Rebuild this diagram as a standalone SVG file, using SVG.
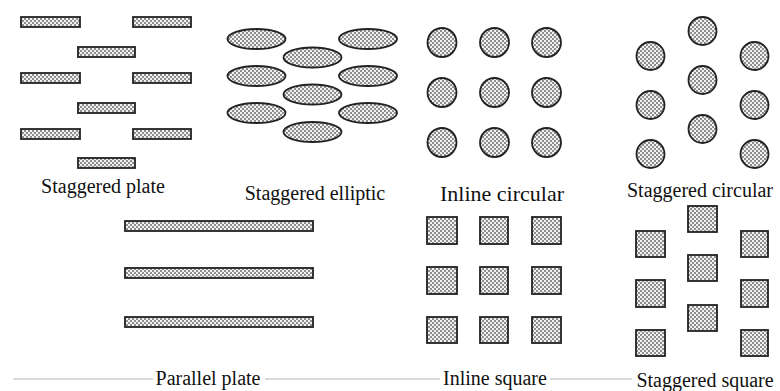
<svg xmlns="http://www.w3.org/2000/svg" width="780" height="391" viewBox="0 0 780 391">
  <defs>
    <!-- checkered hatch used for every tube/plate cross-section -->
    <pattern id="check" width="4" height="4" patternUnits="userSpaceOnUse">
      <rect width="4" height="4" fill="#8e8e8e"/>
      <rect x="0" y="0" width="2" height="2" fill="#f2f2f2"/>
      <rect x="2" y="2" width="2" height="2" fill="#f2f2f2"/>
    </pattern>
  </defs>
  <style>
    .s { fill: url(#check); stroke: #222; stroke-width: 1.8; }
    .lbl { font-family: "Liberation Serif", "Times New Roman", serif; font-size: 20px; fill: #111; text-anchor: middle; }
    .mask { fill: #fff; }
  </style>
  <rect width="780" height="391" fill="#fff"/>

  <!-- baseline rule under the bottom row -->
  <line x1="13" y1="379" x2="780" y2="379" stroke="#b4b4b4" stroke-width="1"/>

  <g id="staggered-plate">
    <rect class="s" x="21" y="17" width="59" height="10"/>
    <rect class="s" x="133" y="17" width="58" height="10"/>
    <rect class="s" x="78" y="47" width="57" height="10"/>
    <rect class="s" x="21" y="73" width="59" height="10"/>
    <rect class="s" x="133" y="73" width="58" height="10"/>
    <rect class="s" x="78" y="103" width="57" height="10"/>
    <rect class="s" x="21" y="129" width="59" height="10"/>
    <rect class="s" x="133" y="129" width="58" height="10"/>
    <rect class="s" x="78" y="158" width="57" height="10"/>
    <text class="lbl" x="103" y="193">Staggered plate</text>
  </g>

  <g id="staggered-elliptic">
    <ellipse class="s" cx="256.5" cy="39" rx="29" ry="10"/>
    <ellipse class="s" cx="368" cy="39" rx="29" ry="10"/>
    <ellipse class="s" cx="312.5" cy="57.5" rx="29" ry="10"/>
    <ellipse class="s" cx="256.5" cy="76" rx="29" ry="10"/>
    <ellipse class="s" cx="368" cy="76" rx="29" ry="10"/>
    <ellipse class="s" cx="312.5" cy="94.5" rx="29" ry="10"/>
    <ellipse class="s" cx="256.5" cy="113" rx="29" ry="10"/>
    <ellipse class="s" cx="368" cy="113" rx="29" ry="10"/>
    <ellipse class="s" cx="312.5" cy="132" rx="29" ry="10"/>
    <text class="lbl" x="315" y="200">Staggered elliptic</text>
  </g>

  <g id="inline-circular">
    <circle class="s" cx="442" cy="42.5" r="14.5"/>
    <circle class="s" cx="494.5" cy="42.5" r="14.5"/>
    <circle class="s" cx="546.5" cy="42.5" r="14.5"/>
    <circle class="s" cx="442" cy="92.5" r="14.5"/>
    <circle class="s" cx="494.5" cy="92.5" r="14.5"/>
    <circle class="s" cx="546.5" cy="92.5" r="14.5"/>
    <circle class="s" cx="442" cy="142.5" r="14.5"/>
    <circle class="s" cx="494.5" cy="142.5" r="14.5"/>
    <circle class="s" cx="546.5" cy="142.5" r="14.5"/>
    <text class="lbl" x="502" y="201" style="font-size:22px">Inline circular</text>
  </g>

  <g id="staggered-circular">
    <circle class="s" cx="702.5" cy="31" r="14"/>
    <circle class="s" cx="650.5" cy="56" r="14"/>
    <circle class="s" cx="754.5" cy="56" r="14"/>
    <circle class="s" cx="702.5" cy="80" r="14"/>
    <circle class="s" cx="650.5" cy="105" r="14"/>
    <circle class="s" cx="754.5" cy="105" r="14"/>
    <circle class="s" cx="702.5" cy="129" r="14"/>
    <circle class="s" cx="650.5" cy="154" r="14"/>
    <circle class="s" cx="754.5" cy="154" r="14"/>
    <text class="lbl" x="700" y="197">Staggered circular</text>
  </g>

  <g id="parallel-plate">
    <rect class="s" x="125" y="221" width="188" height="10"/>
    <rect class="s" x="125" y="268" width="188" height="10"/>
    <rect class="s" x="125" y="317" width="188" height="10"/>
    <rect class="mask" x="153" y="370" width="112" height="20"/>
    <text class="lbl" x="208" y="385">Parallel plate</text>
  </g>

  <g id="inline-square">
    <rect class="s" x="427" y="217" width="30" height="27"/>
    <rect class="s" x="480" y="217" width="28" height="27"/>
    <rect class="s" x="532" y="217" width="29" height="27"/>
    <rect class="s" x="427" y="267" width="30" height="27"/>
    <rect class="s" x="480" y="267" width="28" height="27"/>
    <rect class="s" x="532" y="267" width="29" height="27"/>
    <rect class="s" x="427" y="317" width="30" height="26"/>
    <rect class="s" x="480" y="317" width="28" height="26"/>
    <rect class="s" x="532" y="317" width="29" height="26"/>
    <rect class="mask" x="440" y="370" width="110" height="20"/>
    <text class="lbl" x="495" y="385">Inline square</text>
  </g>

  <g id="staggered-square">
    <rect class="s" x="688" y="206" width="29" height="26"/>
    <rect class="s" x="636" y="231" width="29" height="26"/>
    <rect class="s" x="741" y="231" width="27" height="26"/>
    <rect class="s" x="688" y="255" width="29" height="26"/>
    <rect class="s" x="636" y="280" width="29" height="27"/>
    <rect class="s" x="741" y="280" width="27" height="27"/>
    <rect class="s" x="688" y="305" width="29" height="26"/>
    <rect class="s" x="636" y="330" width="29" height="26"/>
    <rect class="s" x="741" y="330" width="27" height="26"/>
    <rect class="mask" x="632" y="370" width="148" height="21"/>
    <text class="lbl" x="705" y="387">Staggered square</text>
  </g>
</svg>
